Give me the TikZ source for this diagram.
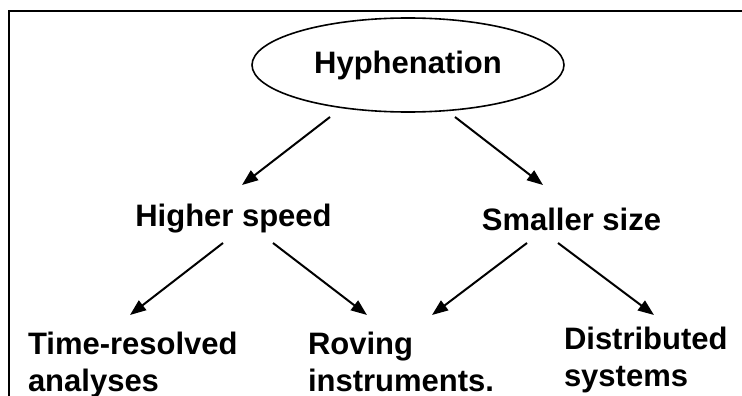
\documentclass[tikz,border=0pt]{standalone}
\usepackage{fontspec}
\setmainfont{Liberation Sans}
\usetikzlibrary{shapes.geometric,arrows.meta}

\tikzset{
    label text/.style={font=\fontsize{31}{37}\selectfont\bfseries, inner sep=0, outer sep=0},
    branch/.style={-{Triangle[length=16pt,width=12pt]}, line width=2pt}
}

\begin{document}
\begin{tikzpicture}[x=1pt,y=-1pt]
        \def\rowTop{332}
        \def\tipShift{-17}

        \useasboundingbox (0,0) rectangle (742,396);
        \draw[line width=2.2pt] (742,11) -- (9,11) -- (9,396);

        \node[label text, ellipse, draw, line width=1.6pt, minimum width=312pt, minimum height=94pt] (hyph) at (408,65) {Hyphenation};

        \node[label text, anchor=base] (speed) at (233.5,226) {Higher speed};
        \node[label text, anchor=base] (size) at (571.5,230) {Smaller size};

        \foreach \name\xPos\yPos\txt in {time/28/\rowTop/{Time-resolved\\analyses},rov/308/\rowTop/{Roving\\instruments.},dist/564/327/{Distributed\\systems}} {
                \node[label text, align=left, anchor=north west] (\name) at (\xPos,\yPos) {\txt};
            }

        % First level
        \draw[branch] ([shift={(-78,5)}]hyph.south) -- ([shift={(8.5,-41)}]speed.base);
        \draw[branch] ([shift={(47,5)}]hyph.south) -- ([shift={(-28.5,-45)}]size.base);

        % Second level
        \draw[branch] ([shift={(-10.5,17)}]speed.base) -- ([shift={(102,\tipShift)}]time.north west);
        \draw[branch] ([shift={(39.5,17)}]speed.base) -- ([shift={(59,\tipShift)}]rov.north west);
        \draw[branch] ([shift={(-44.5,13)}]size.base) -- ([shift={(124,\tipShift)}]rov.north west);
        \draw[branch] ([shift={(-13.5,13)}]size.base) -- ([shift={(90,-12)}]dist.north west);
    \end{tikzpicture}
\end{document}
